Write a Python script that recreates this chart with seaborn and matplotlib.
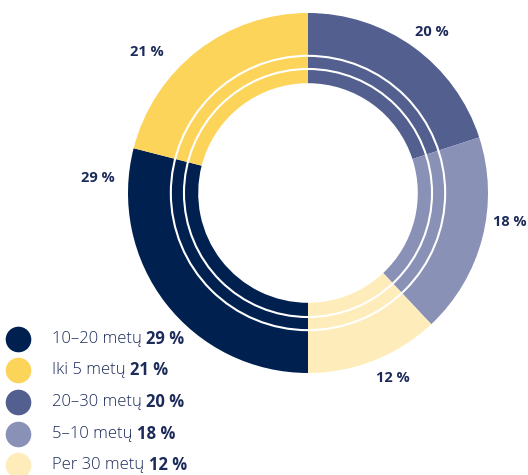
import matplotlib
matplotlib.use("Agg")
import matplotlib.pyplot as plt
import seaborn as sns
import numpy as np

sns.set_theme(style="white")
plt.rcParams['font.family'] = ['Open Sans', 'DejaVu Sans']

# ---data (clockwise from 12 o'clock)---
categories = ["20–30 metų", "5–10 metų", "Per 30 metų", "10–20 metų", "Iki 5 metų"]
shares = [20, 18, 12, 29, 21]
colors = ["#525f8f", "#8991b6", "#feedbb", "#00204f", "#fdd45a"]
# value label positions (data units, radius 1 = outer edge)
label_x = [0.689, 1.122, 0.472, -1.167, -0.894]
label_y = [0.894, -0.161, -1.028, 0.083, 0.783]

TEXT = "#1c2b5a"

W, H = 528, 475
R_PX = 180
CX, CY = 308, 193  # centre in pixels (from top-left)

fig = plt.figure(figsize=(W / 100, H / 100), dpi=100)
ax = fig.add_axes([0, 0, 1, 1])

ax.pie(shares, colors=colors, startangle=90, counterclock=False, radius=1,
       wedgeprops=dict(width=0.39, linewidth=0))

# pie() resets the limits/aspect, so fix them afterwards
ax.set_aspect('auto')
ax.set_xlim(-CX / R_PX, (W - CX) / R_PX)
ax.set_ylim(-(H - CY) / R_PX, CY / R_PX)
ax.axis('off')

# thin white rings inside the band
for r in [0.689, 0.762]:
    ax.add_patch(plt.Circle((0, 0), r, fill=False, ec='white', lw=1.5))

for x, y, v in zip(label_x, label_y, shares):
    ax.text(x, y, f"{v} %", ha='center', va='center', fontsize=10.5,
            fontweight='bold', color=TEXT)

# legend, sorted by share
order = np.argsort(shares)[::-1]
leg_y_px = [339, 370, 402, 434, 465]
leg_x = (18 - CX) / R_PX
for i, py in zip(order, leg_y_px):
    y = (CY - py) / R_PX
    ax.scatter([leg_x], [y], s=340, color=colors[i], linewidth=0, clip_on=False)
    t = ax.text(leg_x + 34 / R_PX, y, categories[i] + " ", ha='left', va='center',
                fontsize=12, color=TEXT, fontweight='light')
    ax.annotate(f"{shares[i]} %", xy=(1, 0.5), xycoords=t, ha='left', va='center',
                fontsize=12, fontweight='bold', color=TEXT)

fig.savefig("out.png", dpi=100)
